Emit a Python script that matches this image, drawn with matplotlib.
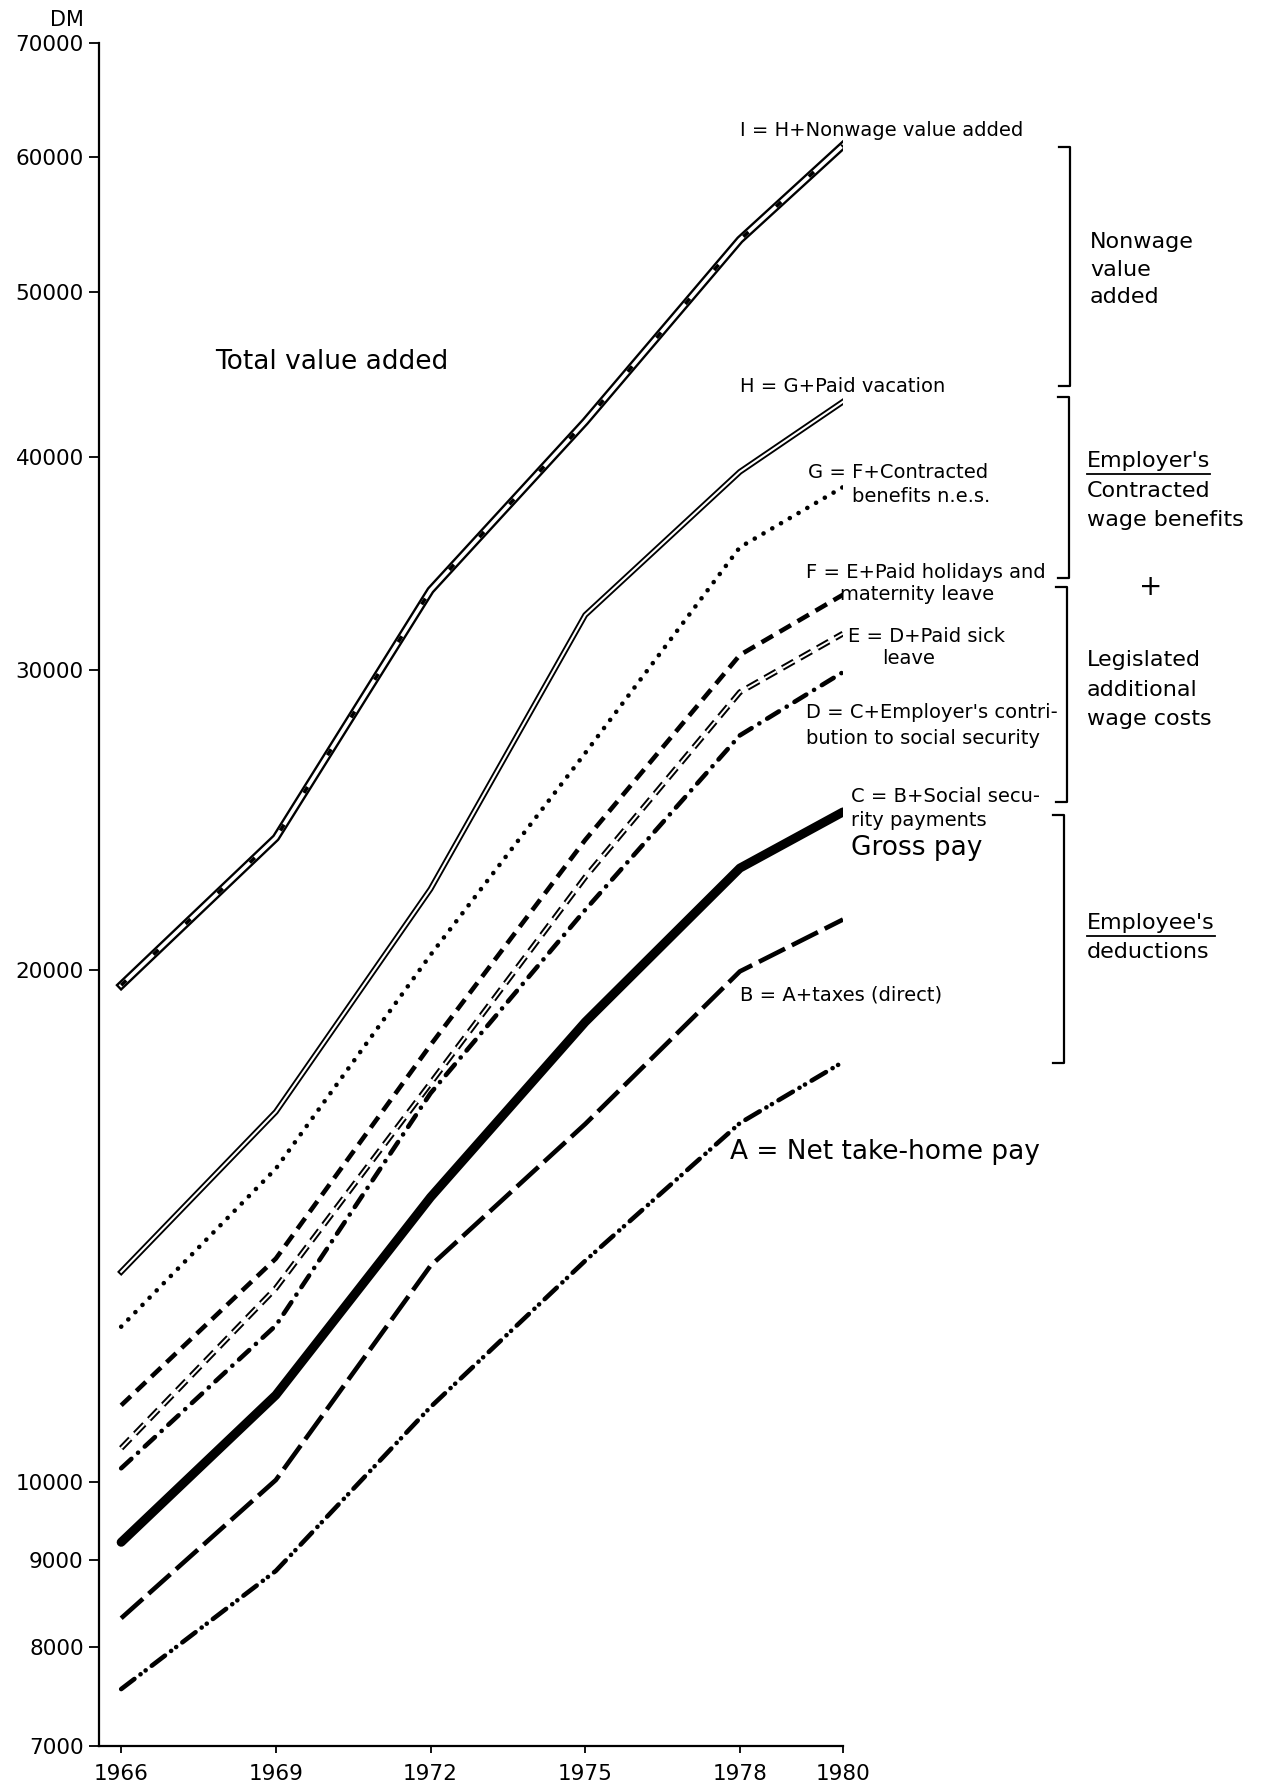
import matplotlib
matplotlib.use("Agg")
import matplotlib.pyplot as plt
from matplotlib.ticker import NullLocator

plt.rcParams['font.family'] = ['DejaVu Sans']
plt.rcParams['lines.scale_dashes'] = False

# data (DM per employee)
years = [1966, 1969, 1972, 1975, 1978, 1980]
A_net = [7560, 8870, 11070, 13490, 16250, 17650]
B_tax = [8320, 10030, 13400, 16230, 19950, 21400]
C_gross = [9220, 11250, 14700, 18630, 22940, 24750]
D_social = [10190, 12360, 16920, 21680, 27450, 29900]
E_sick = [10470, 13000, 17150, 22660, 29100, 31500]
F_holiday = [11095, 13530, 18060, 23830, 30600, 33200]
G_contract = [12340, 15280, 20400, 26800, 35400, 38400]
H_vacation = [13290, 16500, 22300, 32300, 39200, 43100]
I_total = [19580, 23900, 33400, 41950, 53650, 60950]

yticks = [7000, 8000, 9000, 10000, 20000, 30000, 40000, 50000, 60000, 70000]
xticks = [1966, 1969, 1972, 1975, 1978, 1980]

W, H = 1274, 1788
fig = plt.figure(figsize=(W / 100, H / 100), dpi=100)
ax = fig.add_axes([99 / W, 1 - 1746 / H, 744 / W, (1746 - 43) / H])

# I: hollow double line with black marks
ax.plot(years, I_total, color='black', lw=6, zorder=3)
ax.plot(years, I_total, color='white', lw=2.6, zorder=4)
ax.plot(years, I_total, color='black', lw=2.6, dashes=(5, 27), zorder=5)
# H: double thin line
ax.plot(years, H_vacation, color='black', lw=4.2, zorder=3)
ax.plot(years, H_vacation, color='white', lw=1.5, zorder=4)
# G: dotted
ax.plot(years, G_contract, color='black', lw=3.3, dashes=(0.1, 7.2),
        dash_capstyle='round', zorder=3)
# F: dashed
ax.plot(years, F_holiday, color='black', lw=3.3, dashes=(9.5, 5.5), zorder=3)
# E: double dashed
ax.plot(years, E_sick, color='black', lw=4.2, dashes=(9.5, 5), zorder=3)
ax.plot(years, E_sick, color='white', lw=1.4, dashes=(9.5, 5), zorder=4)
# D: dash-dot
ax.plot(years, D_social, color='black', lw=3.3, dashes=(10, 6.5, 0.1, 6.5),
        dash_capstyle='round', zorder=3)
# C: gross pay, heavy
ax.plot(years, C_gross, color='black', lw=6.5, solid_capstyle='round', zorder=3)
# B: long dash
ax.plot(years, B_tax, color='black', lw=3.3, dashes=(21, 5.5), zorder=3)
# A: dash-dot-dot
ax.plot(years, A_net, color='black', lw=3.3,
        dashes=(12, 5.5, 0.1, 4.5, 0.1, 5.5), dash_capstyle='round', zorder=3)

ax.set_yscale('log')
ax.set_ylim(7000, 70000)
ax.set_xlim(1965.57, 1980)
ax.yaxis.set_minor_locator(NullLocator())
ax.set_yticks(yticks)
ax.set_yticklabels([str(v) for v in yticks])
ax.set_xticks(xticks)
ax.set_xticklabels([str(v) for v in xticks])
ax.tick_params(axis='y', direction='out', length=7, width=1.3, pad=4, labelsize=15.5)
ax.tick_params(axis='x', direction='out', length=5, width=1.3, pad=8, labelsize=15.5)
for s in ['top', 'right']:
    ax.spines[s].set_visible(False)
for s in ['left', 'bottom']:
    ax.spines[s].set_linewidth(1.6)
ax.patch.set_alpha(0)

# overlay in pixel coordinates for labels and brackets
ov = fig.add_axes([0, 0, 1, 1])
ov.set_xlim(0, W)
ov.set_ylim(H, 0)
ov.axis('off')
ov.patch.set_alpha(0)

ov.text(84, 20, 'DM', ha='right', va='center', fontsize=15)

small = 14
big = 19
labels = [
    (740, 130, 'I = H+Nonwage value added', small),
    (740, 386, 'H = G+Paid vacation', small),
    (808, 473, 'G = F+Contracted', small),
    (852, 497, 'benefits n.e.s.', small),
    (806, 573, 'F = E+Paid holidays and', small),
    (840, 595, 'maternity leave', small),
    (848, 637, 'E = D+Paid sick', small),
    (882, 659, 'leave', small),
    (806, 713, "D = C+Employer's contri-", small),
    (806, 738, 'bution to social security', small),
    (851, 797, 'C = B+Social secu-', small),
    (851, 820, 'rity payments', small),
    (851, 848, 'Gross pay', big),
    (740, 995, 'B = A+taxes (direct)', small),
    (730, 1152, 'A = Net take-home pay', big),
    (215, 362, 'Total value added', big),
]
for x, y, s, fs in labels:
    ov.text(x, y, s, ha='left', va='center', fontsize=fs)

# brackets on the right
brackets = [(1070, 147, 386), (1069, 397, 578), (1067, 587, 802), (1064, 815, 1063)]
for bx, top, bot in brackets:
    ov.plot([bx - 11, bx, bx, bx - 11], [top, top, bot, bot], color='black', lw=1.6)

group = 16
side = [
    (1090, 242, 'Nonwage', False),
    (1090, 270, 'value', False),
    (1090, 297, 'added', False),
    (1087, 461, "Employer's", True),
    (1087, 491, 'Contracted', False),
    (1087, 520, 'wage benefits', False),
    (1087, 660, 'Legislated', False),
    (1087, 690, 'additional', False),
    (1087, 719, 'wage costs', False),
    (1087, 923, "Employee's", True),
    (1087, 952, 'deductions', False),
]
fig.canvas.draw()
renderer = fig.canvas.get_renderer()
for x, y, s, ul in side:
    t = ov.text(x, y, s, ha='left', va='center', fontsize=group)
    if ul:
        bb = t.get_window_extent(renderer)
        ov.plot([x, x + bb.width], [y + 13, y + 13], color='black', lw=1.3)
ov.text(1151, 587, '+', ha='center', va='center', fontsize=20)

fig.savefig('out.png', dpi=100)
